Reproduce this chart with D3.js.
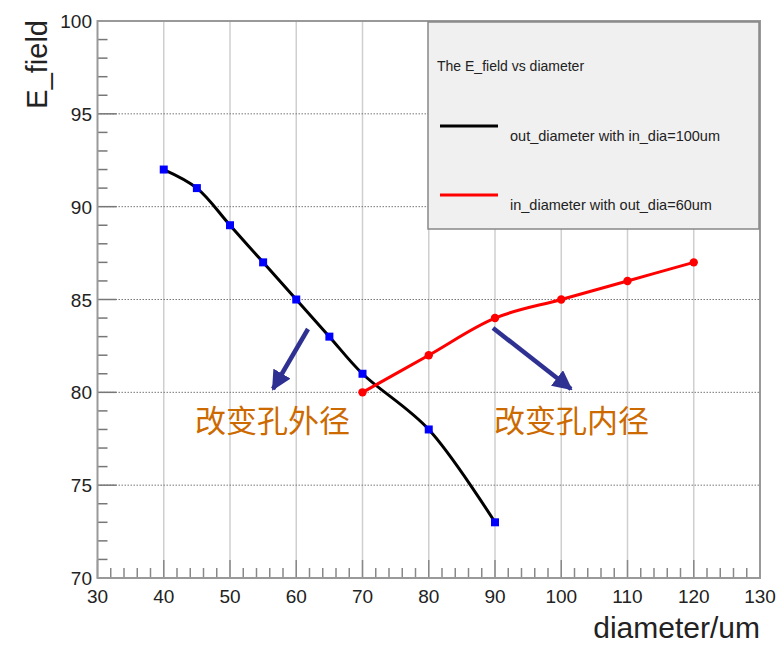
<!DOCTYPE html>
<html><head><meta charset="utf-8">
<script src="https://cdn.jsdelivr.net/npm/d3@7"></script>
<style>body{margin:0;background:#fff}svg{display:block}</style>
</head><body>
<script>
const outDia = [40, 45, 50, 55, 60, 65, 70, 80, 90];
const outField = [92, 91, 89, 87, 85, 83, 81, 78, 73];
const inDia = [70, 80, 90, 100, 110, 120];
const inField = [80, 82, 84, 85, 86, 87];
const xTicks = [30, 40, 50, 60, 70, 80, 90, 100, 110, 120, 130];
const yTicks = [70, 75, 80, 85, 90, 95, 100];
const legendTitle = "The E_field vs diameter";
const legendLabels = ["out_diameter with in_dia=100um", "in_diameter with out_dia=60um"];
const notes = ["改变孔外径", "改变孔内径"];

const W = 778, H = 647;
const L = 97.5, R = 760, T = 21, B = 578;
const svg = d3.select("body").append("svg").attr("width", W).attr("height", H);
const x = d3.scaleLinear().domain([30, 130]).range([L, R]);
const y = d3.scaleLinear().domain([70, 100]).range([B, T]);
const font = "'Liberation Sans', Arial, sans-serif";

// grid
svg.append("g").selectAll("line").data(xTicks.slice(1, -1)).join("line")
  .attr("x1", d => x(d)).attr("x2", d => x(d)).attr("y1", T).attr("y2", B)
  .attr("stroke", "#cfcfcf").attr("stroke-width", 1.5);
svg.append("g").selectAll("line").data(yTicks.slice(1, -1)).join("line")
  .attr("x1", L).attr("x2", R).attr("y1", d => y(d)).attr("y2", d => y(d))
  .attr("stroke", "#777").attr("stroke-width", 1).attr("stroke-dasharray", "1.5,1.5");

// minor + major ticks
const xMinor = d3.range(30, 130.01, 2);
svg.append("g").selectAll("line").data(xMinor).join("line")
  .attr("x1", d => x(d)).attr("x2", d => x(d))
  .attr("y1", B).attr("y2", d => B - (d % 10 === 0 ? 18 : 10))
  .attr("stroke", "#888").attr("stroke-width", 1.5);
const yMinor = d3.range(70, 100.01, 1);
svg.append("g").selectAll("line").data(yMinor).join("line")
  .attr("y1", d => y(d)).attr("y2", d => y(d))
  .attr("x1", L).attr("x2", d => L + (d % 5 === 0 ? 19 : 10))
  .attr("stroke", "#777").attr("stroke-width", 1.5);

// frame
svg.append("rect").attr("x", L).attr("y", T).attr("width", R - L).attr("height", B - T)
  .attr("fill", "none").attr("stroke", "#999").attr("stroke-width", 2);

// tick labels
svg.append("g").selectAll("text").data(xTicks).join("text")
  .attr("x", d => x(d)).attr("y", 603).attr("text-anchor", "middle")
  .attr("font-family", font).attr("font-size", 19).attr("fill", "#222")
  .text(d => d);
svg.append("g").selectAll("text").data(yTicks).join("text")
  .attr("x", 92).attr("y", d => y(d) + 7).attr("text-anchor", "end")
  .attr("font-family", font).attr("font-size", 19).attr("fill", "#222")
  .text(d => d);

// axis titles
svg.append("text").attr("transform", "translate(47,20) rotate(-90)")
  .attr("text-anchor", "end").attr("font-family", font).attr("font-size", 29).attr("fill", "#222")
  .text("E_field");
svg.append("text").attr("x", 760).attr("y", 638).attr("text-anchor", "end")
  .attr("font-family", font).attr("font-size", 30).attr("fill", "#222")
  .text("diameter/um");

// curves
const outPts = outDia.map((d, i) => [d, outField[i]]);
const inPts = inDia.map((d, i) => [d, inField[i]]);
const lineOut = d3.line().x(d => x(d[0])).y(d => y(d[1])).curve(d3.curveCatmullRom.alpha(0.5));
const lineIn = d3.line().x(d => x(d[0])).y(d => y(d[1])).curve(d3.curveCatmullRom.alpha(0.5));
svg.append("path").attr("d", lineOut(outPts)).attr("fill", "none").attr("stroke", "#000").attr("stroke-width", 3);
svg.append("path").attr("d", lineIn(inPts)).attr("fill", "none").attr("stroke", "#ff0000").attr("stroke-width", 3);
svg.append("g").selectAll("rect").data(outPts).join("rect")
  .attr("x", d => x(d[0]) - 4).attr("y", d => y(d[1]) - 4).attr("width", 8).attr("height", 8)
  .attr("fill", "#0000ff");
svg.append("g").selectAll("circle").data(inPts).join("circle")
  .attr("cx", d => x(d[0])).attr("cy", d => y(d[1])).attr("r", 4.2)
  .attr("fill", "#ff0000");

// legend
const lg = svg.append("g");
lg.append("rect").attr("x", 428).attr("y", 22).attr("width", 331).attr("height", 207)
  .attr("fill", "#f0f0f0").attr("stroke", "#888").attr("stroke-width", 1.5);
lg.append("text").attr("x", 437).attr("y", 71).attr("font-family", font).attr("font-size", 14)
  .attr("fill", "#222").text(legendTitle);
const lc = ["#000", "#ff0000"];
legendLabels.forEach((t, i) => {
  const ly = 126 + i * 69;
  lg.append("line").attr("x1", 440).attr("x2", 498).attr("y1", ly).attr("y2", ly)
    .attr("stroke", lc[i]).attr("stroke-width", 3);
  lg.append("text").attr("x", 510).attr("y", ly + 15).attr("font-family", font).attr("font-size", 14.5)
    .attr("fill", "#222").text(t);
});

// arrows
const defs = svg.append("defs");
defs.append("marker").attr("id", "ah").attr("viewBox", "0 0 10 10").attr("refX", 9).attr("refY", 5)
  .attr("markerWidth", 4.4).attr("markerHeight", 4.4).attr("markerUnits", "strokeWidth").attr("orient", "auto")
  .append("path").attr("d", "M0,0 L10,5 L0,10 Z").attr("fill", "#2e3192");
const arrows = [[[308, 329], [273, 389]], [[493, 328], [571, 389]]];
svg.append("g").selectAll("line").data(arrows).join("line")
  .attr("x1", d => d[0][0]).attr("y1", d => d[0][1]).attr("x2", d => d[1][0]).attr("y2", d => d[1][1])
  .attr("stroke", "#2e3192").attr("stroke-width", 4.5).attr("marker-end", "url(#ah)");

// notes
const notePos = [[195, 432], [494, 432]];
svg.append("g").selectAll("text").data(notes).join("text")
  .attr("x", (d, i) => notePos[i][0]).attr("y", (d, i) => notePos[i][1])
  .attr("font-family", "'Noto Sans CJK SC', sans-serif").attr("font-size", 31)
  .attr("fill", "#cc6a00").text(d => d);
</script>
</body></html>
